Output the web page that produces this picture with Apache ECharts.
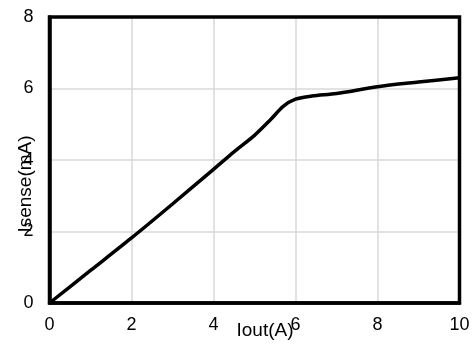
<!DOCTYPE html>
<html>
<head>
<meta charset="utf-8">
<script src="https://cdn.jsdelivr.net/npm/echarts@6/dist/echarts.min.js"></script>
<style>
html, body { margin: 0; padding: 0; background: #fff; }
#chart { width: 476px; height: 347px; }
</style>
</head>
<body>
<div id="chart"></div>
<script>
var iout = [0, 1, 2, 3, 4, 4.5, 5, 5.4, 5.7, 6, 6.4, 7, 8, 9, 10];
var isense = [0, 0.91, 1.82, 2.77, 3.74, 4.23, 4.69, 5.14, 5.5, 5.7, 5.79, 5.86, 6.05, 6.18, 6.3];
var xName = 'Iout(A)';
var yName = 'Isense(mA)';

var points = [];
for (var i = 0; i < iout.length; i++) {
	points.push([iout[i], isense[i]]);
}

var nameFont = {
	fontFamily : 'Liberation Sans',
	fontSize : 19,
	fill : '#000',
	align : 'center',
	verticalAlign : 'middle'
};

var myChart = echarts.init(document.getElementById('chart'));
var option = {
	backgroundColor : '#fff',
	animation : false,
	grid : {
		left : 49.5,
		right : 16.5,
		top : 17,
		bottom : 44,
		containLabel : false,
		outerBoundsMode : 'none',
		show : true,
		borderColor : '#000',
		borderWidth : 3.5,
		z : 10
	},
	// axis titles sit where the original put them (overlapping the ticks)
	graphic : [
		{
			type : 'text',
			x : 265,
			y : 331,
			z : 20,
			style : Object.assign({ text : xName }, nameFont)
		},
		{
			type : 'text',
			x : 26,
			y : 184,
			rotation : Math.PI / 2,
			z : 20,
			style : Object.assign({ text : yName }, nameFont)
		}
	],
	xAxis : {
		type : 'value',
		min : 0,
		max : 10,
		interval : 2,
		axisLine : { lineStyle : { color : '#000', width : 3.5 } },
		axisTick : { show : false },
		axisLabel : {
			fontFamily : 'Liberation Sans',
			fontSize : 18,
			color : '#000',
			margin : 13
		},
		splitLine : { showMinLine : false, showMaxLine : false, lineStyle : { color : '#d9d9d9', width : 1.5 } }
	},
	yAxis : {
		type : 'value',
		min : 0,
		max : 8,
		interval : 2,
		axisLine : { show : true, lineStyle : { color : '#000', width : 3.5 } },
		axisTick : { show : false },
		axisLabel : {
			fontFamily : 'Liberation Sans',
			fontSize : 18,
			color : '#000',
			margin : 16
		},
		splitLine : { showMinLine : false, showMaxLine : false, lineStyle : { color : '#d9d9d9', width : 1.5 } }
	},
	series : [
		{
			type : 'line',
			data : points,
			smooth : 0.3,
			showSymbol : false,
			lineStyle : { color : '#000', width : 3.5 }
		}
	]
};
myChart.setOption(option);
</script>
</body>
</html>
